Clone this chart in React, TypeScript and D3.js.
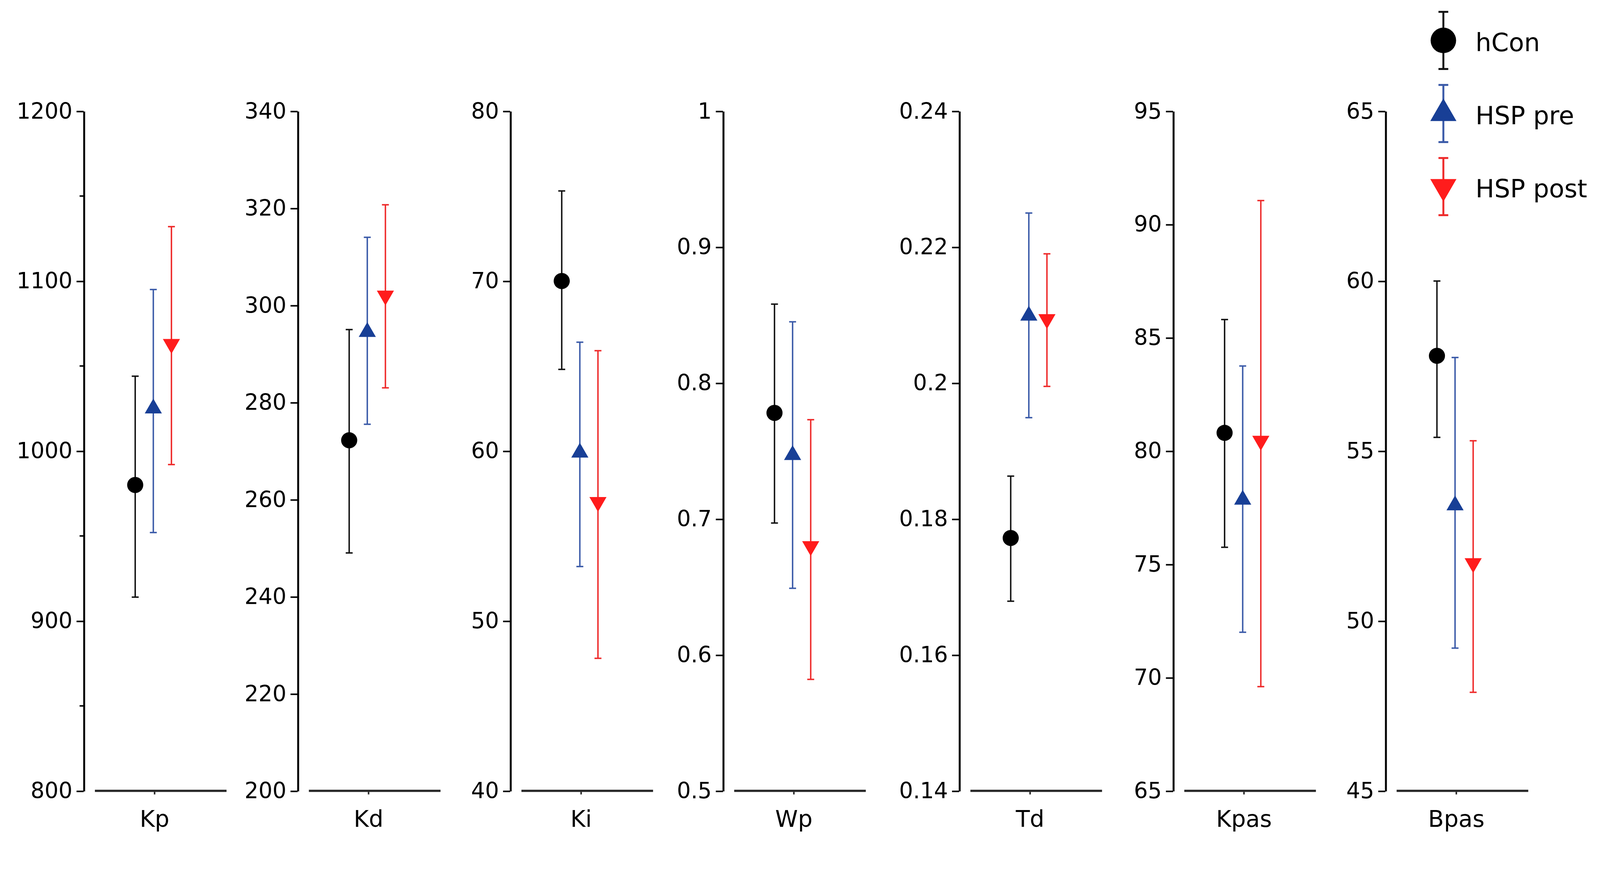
import * as d3 from "d3";
import { useEffect, useRef } from "react";

// parameters shown as separate panels
const parameters = ["Kp", "Kd", "Ki", "Wp", "Td", "Kpas", "Bpas"];
const groups = ["hCon", "HSP pre", "HSP post"];

// group means and error-bar ends
const hConMean = [980, 272.2, 70, 0.778, 0.1772, 80.8, 57.8];
const hConLow = [914, 249, 64.8, 0.697, 0.1679, 75.75, 55.4];
const hConHigh = [1044, 295, 75.3, 0.858, 0.1863, 85.8, 60];

const preMean = [1025, 294.5, 59.9, 0.747, 0.2099, 77.85, 53.4];
const preLow = [952, 275.5, 53.2, 0.649, 0.1949, 72.0, 49.2];
const preHigh = [1095, 314, 66.4, 0.845, 0.225, 83.75, 57.75];

const postMean = [1063, 302, 57, 0.68, 0.2094, 80.45, 51.7];
const postLow = [992, 283, 47.8, 0.582, 0.1995, 69.6, 47.9];
const postHigh = [1132, 320.7, 65.9, 0.773, 0.219, 91.05, 55.3];

const yDomains: [number, number][] = [
  [800, 1200],
  [200, 340],
  [40, 80],
  [0.5, 1],
  [0.14, 0.24],
  [65, 95],
  [45, 65],
];

const yTicks = [
  [800, 900, 1000, 1100, 1200],
  [200, 220, 240, 260, 280, 300, 320, 340],
  [40, 50, 60, 70, 80],
  [0.5, 0.6, 0.7, 0.8, 0.9, 1],
  [0.14, 0.16, 0.18, 0.2, 0.22, 0.24],
  [65, 70, 75, 80, 85, 90, 95],
  [45, 50, 55, 60, 65],
];

// only the first panel carries minor ticks
const yMinorTicks = [[850, 950, 1050, 1150], [], [], [], [], [], []];

// drawing is done in the figure's own units and scaled to the page
const W = 1568;
const H = (2293 * 1568) / 4328;
const axisX = [82, 291.7, 500, 708.5, 940, 1149.6, 1357.7];
const yTop = 108.8;
const yBottom = 774.8;

const fontFamily = "'DejaVu Sans', Arial, sans-serif";

const markerFill: Record<string, string> = {
  hCon: "#000000",
  "HSP pre": "#183f96",
  "HSP post": "#ff1c1c",
};

const barColor: Record<string, string> = {
  hCon: "#111111",
  "HSP pre": "#3a5aa8",
  "HSP post": "#ee2a2a",
};

const markerShape: Record<string, d3.SymbolType> = {
  hCon: d3.symbolCircle,
  "HSP pre": d3.symbolTriangle,
  "HSP post": d3.symbolTriangle,
};

export default function App() {
  const svgRef = useRef<SVGSVGElement>(null);

  useEffect(() => {
    if (!svgRef.current) return;
    document.body.style.margin = "0";
    document.body.style.overflow = "hidden";
    const svg = d3.select(svgRef.current);
    svg.selectAll("*").remove();

    svg.append("rect").attr("width", W).attr("height", H).attr("fill", "#ffffff");

    const symbolPath = (g: string, area: number) =>
      d3.symbol().type(markerShape[g]).size(area)()!;

    const markerArea = (g: string, big: boolean) =>
      g === "hCon" ? (big ? 490 : 196) : big ? 285 : 122;

    const drawMarker = (
      parent: d3.Selection<SVGGElement, unknown, null, undefined>,
      g: string,
      x: number,
      y: number,
      big: boolean,
    ) => {
      parent
        .append("path")
        .attr("d", symbolPath(g, markerArea(g, big)))
        .attr(
          "transform",
          `translate(${x},${y})` + (g === "HSP post" ? " rotate(180)" : ""),
        )
        .attr("fill", markerFill[g]);
    };

    const drawErrorBar = (
      parent: d3.Selection<SVGGElement, unknown, null, undefined>,
      g: string,
      x: number,
      y0: number,
      y1: number,
      capHalf: number,
      width: number,
    ) => {
      const bar = parent.append("g").attr("stroke", barColor[g]).attr("stroke-width", width);
      bar.append("line").attr("x1", x).attr("x2", x).attr("y1", y0).attr("y2", y1);
      [y0, y1].forEach((yy) => {
        bar
          .append("line")
          .attr("x1", x - capHalf)
          .attr("x2", x + capHalf)
          .attr("y1", yy)
          .attr("y2", yy);
      });
    };

    parameters.forEach((param, i) => {
      const ax = axisX[i];
      const yScale = d3.scaleLinear().domain(yDomains[i]).range([yBottom, yTop]);
      const xScale = d3.scalePoint<string>().domain(groups).range([ax + 50.5, ax + 86]);

      const panel = svg.append("g");

      // y axis
      const yAxis = panel
        .append("g")
        .attr("transform", `translate(${ax},0)`)
        .call(
          d3
            .axisLeft(yScale)
            .tickValues(yTicks[i])
            .tickFormat((d) => d3.format("~g")(d as number))
            .tickSize(7)
            .tickSizeOuter(0)
            .tickPadding(4),
        );
      yAxis.select(".domain").attr("stroke", "#000").attr("stroke-width", 1.9);
      yAxis.selectAll(".tick line").attr("stroke", "#000").attr("stroke-width", 1.5);
      yAxis
        .selectAll(".tick text")
        .attr("fill", "#000")
        .attr("font-family", fontFamily)
        .attr("font-size", 21.5);

      if (yMinorTicks[i].length) {
        panel
          .append("g")
          .selectAll("line")
          .data(yMinorTicks[i])
          .join("line")
          .attr("x1", ax - 4)
          .attr("x2", ax)
          .attr("y1", (d) => yScale(d))
          .attr("y2", (d) => yScale(d))
          .attr("stroke", "#000")
          .attr("stroke-width", 1.5);
      }

      // detached x baseline with a centre tick
      const cx = ax + 69.5;
      panel
        .append("line")
        .attr("x1", ax + 11)
        .attr("x2", ax + 140)
        .attr("y1", yBottom)
        .attr("y2", yBottom)
        .attr("stroke", "#2a2a2a")
        .attr("stroke-width", 2.2);
      panel
        .append("line")
        .attr("x1", cx)
        .attr("x2", cx)
        .attr("y1", yBottom)
        .attr("y2", yBottom + 3.5)
        .attr("stroke", "#2a2a2a")
        .attr("stroke-width", 1.5);
      panel
        .append("text")
        .attr("x", cx)
        .attr("y", 810)
        .attr("text-anchor", "middle")
        .attr("font-family", fontFamily)
        .attr("font-size", 22.5)
        .attr("fill", "#000")
        .text(param);

      const rows = [
        { g: "hCon", m: hConMean[i], lo: hConLow[i], hi: hConHigh[i] },
        { g: "HSP pre", m: preMean[i], lo: preLow[i], hi: preHigh[i] },
        { g: "HSP post", m: postMean[i], lo: postLow[i], hi: postHigh[i] },
      ];

      rows.forEach((r) => {
        drawErrorBar(panel, r.g, xScale(r.g)!, yScale(r.hi), yScale(r.lo), 3.4, 1.4);
      });
      rows.forEach((r) => {
        drawMarker(panel, r.g, xScale(r.g)!, yScale(r.m), false);
      });
    });

    // legend in the top right corner
    const legendY = d3.scalePoint<string>().domain(groups).range([39.6, 182.8]);
    const legend = svg.append("g");
    groups.forEach((g) => {
      const y = legendY(g)!;
      drawErrorBar(legend, g, 1414.5, y - 28, y + 28, 4.8, 1.9);
      drawMarker(legend, g, 1414.5, y, true);
      legend
        .append("text")
        .attr("x", 1446)
        .attr("y", y + 10.5)
        .attr("font-family", fontFamily)
        .attr("font-size", 24.5)
        .attr("fill", "#000")
        .text(g);
    });
  }, []);

  return (
    <svg
      ref={svgRef}
      viewBox={`0 0 ${W} ${H}`}
      preserveAspectRatio="xMinYMin meet"
      style={{
        position: "absolute",
        left: 0,
        top: 0,
        width: "100vw",
        height: "100vh",
        display: "block",
      }}
    ></svg>
  );
}
